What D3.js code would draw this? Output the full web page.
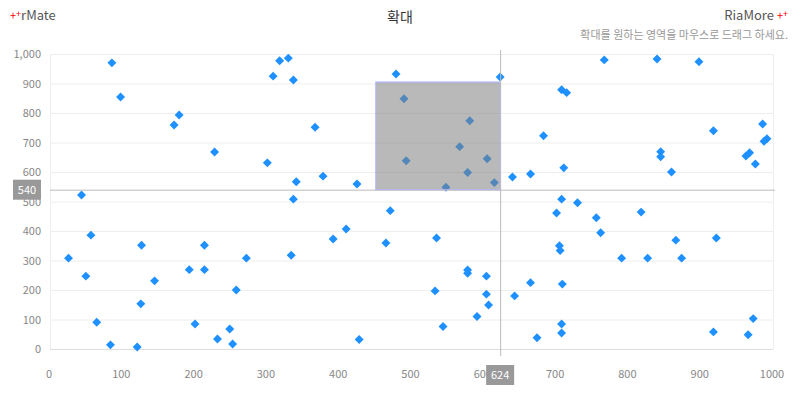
<!DOCTYPE html>
<html><head><meta charset="utf-8">
<script src="https://cdn.jsdelivr.net/npm/d3@7"></script>
<style>body{margin:0;background:#fff;font-family:"Noto Sans CJK KR","Noto Sans",sans-serif}</style>
</head><body><svg id="c" width="800" height="400"></svg>
<script>
var xValues = [87,99,173,180,229,302,310,319,331,338,342,368,379,426,480,45,338,
  491,582,568,494,606,579,616,549,624,709,716,768,841,899,684,919,987,989,993,846,846,969,964,977,712,641,666,861,709,731,
  27,51,58,66,85,122,127,128,146,194,202,215,215,233,250,254,259,273,335,393,411,429,466,472,
  702,757,763,819,536,867,923,706,707,792,828,875,579,579,605,666,710,534,605,644,608,592,974,545,709,709,675,919,967];
var yValues = [970,854,759,793,668,631,925,977,986,912,567,752,586,559,932,522,508,
  848,774,686,638,645,598,564,548,922,879,869,980,983,974,723,740,763,704,713,669,652,665,654,627,614,583,593,600,508,496,
  308,247,386,91,14,7,153,352,231,269,85,352,269,34,68,17,200,308,318,373,407,32,359,469,
  461,445,394,464,376,369,376,350,334,308,308,308,268,257,247,225,220,197,186,180,149,110,103,76,85,54,38,58,48];
var yTicks = [0,100,200,300,400,500,600,700,800,900,1000];
var xTicks = [0,100,200,300,400,500,600,700,800,900,1000];
var selX = [452,624], selY = [540,905];
var crossX = 624, crossY = 540;

var svg = d3.select("#c");
var x = d3.scaleLinear().domain([0,1000]).range([49,772]);
var y = d3.scaleLinear().domain([0,1000]).range([349,54]);

svg.append("text").attr("x",400).attr("y",22).attr("text-anchor","middle").attr("font-size",14).attr("fill","#333").text("확대");
var lt = svg.append("text").attr("x",10).attr("y",20).attr("font-size",13).attr("fill","#555");
lt.append("tspan").attr("fill","red").attr("font-size",11).text("+");
lt.append("tspan").attr("fill","red").attr("font-size",9).attr("dy",-3).text("+");
lt.append("tspan").attr("dy",3).text("rMate");
var rt = svg.append("text").attr("x",788).attr("y",20).attr("text-anchor","end").attr("font-size",13).attr("fill","#555");
rt.append("tspan").text("RiaMore ");
rt.append("tspan").attr("fill","red").attr("font-size",11).text("+");
rt.append("tspan").attr("fill","red").attr("font-size",9).attr("dy",-3).text("+");
svg.append("text").attr("x",788).attr("y",39).attr("text-anchor","end").attr("font-size",11).attr("fill","#999").text("확대를 원하는 영역을 마우스로 드래그 하세요.");

svg.append("g").selectAll("line").data(yTicks).join("line")
  .attr("x1",50).attr("x2",773).attr("y1",d=>y(d)+0.5).attr("y2",d=>y(d)+0.5)
  .attr("stroke",d=>d===0?"#ddd":"#eee");
svg.append("line").attr("x1",50.5).attr("x2",50.5).attr("y1",54).attr("y2",349).attr("stroke","#eee");
svg.append("line").attr("x1",773.5).attr("x2",773.5).attr("y1",54).attr("y2",349).attr("stroke","#eee");

svg.append("g").selectAll("text").data(yTicks).join("text")
  .attr("x",41).attr("y",d=>y(d)+4).attr("text-anchor","end").attr("font-size",11).attr("fill","#888")
  .text(d3.format(","));
svg.append("g").selectAll("text").data(xTicks).join("text")
  .attr("x",d=>x(d)).attr("y",378).attr("text-anchor","middle").attr("font-size",11).attr("fill","#888")
  .text(d=>d);

var diamond = d3.symbol().type(d3.symbolSquare).size(40);
svg.append("g").selectAll("path").data(xValues).join("path")
  .attr("d",diamond).attr("fill","#1e90ff")
  .attr("transform",(d,i)=>"translate("+x(d)+","+y(yValues[i])+") rotate(45)");

svg.append("rect").attr("x",x(selX[0])).attr("y",y(selY[1]))
  .attr("width",x(selX[1])-x(selX[0])).attr("height",y(selY[0])-y(selY[1]))
  .attr("fill","#808080").attr("fill-opacity",0.55).attr("stroke","#aab0ff");

svg.append("line").attr("x1",50).attr("x2",775).attr("y1",y(crossY)+0.5).attr("y2",y(crossY)+0.5).attr("stroke","#bbb");
svg.append("line").attr("x1",x(crossX)+0.5).attr("x2",x(crossX)+0.5).attr("y1",50).attr("y2",356).attr("stroke","#bbb");
svg.append("rect").attr("x",13).attr("y",y(crossY)-10).attr("width",28).attr("height",20).attr("fill","#999");
svg.append("text").attr("x",27).attr("y",y(crossY)+4).attr("text-anchor","middle").attr("font-size",11).attr("fill","#fff").text(crossY);
svg.append("rect").attr("x",x(crossX)-14).attr("y",365).attr("width",28).attr("height",20).attr("fill","#999");
svg.append("text").attr("x",x(crossX)).attr("y",379).attr("text-anchor","middle").attr("font-size",11).attr("fill","#fff").text(crossX);
</script></body></html>
